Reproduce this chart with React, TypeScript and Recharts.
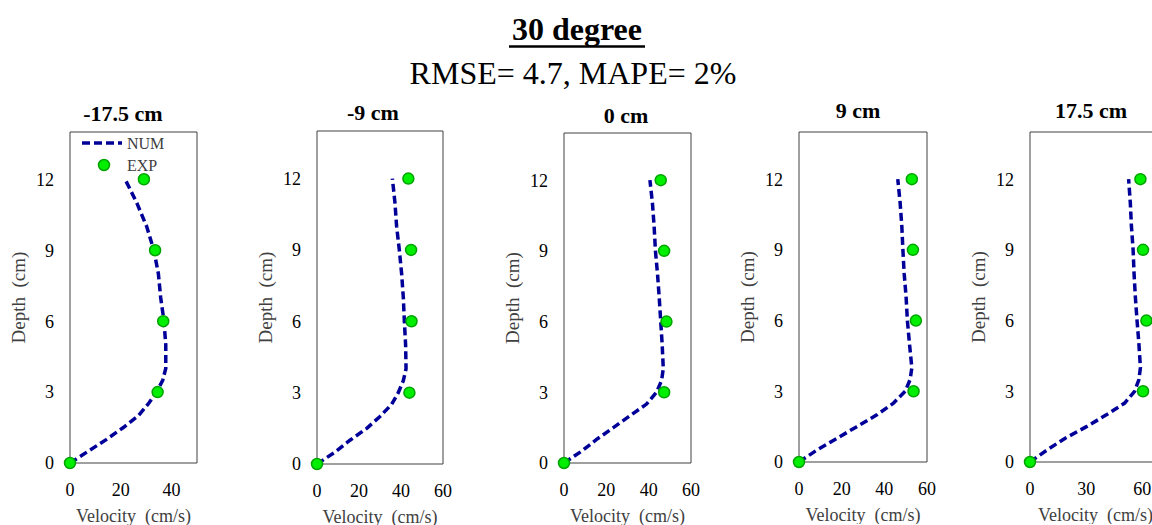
import React from "react";
import {
    ScatterChart,
    Scatter,
    XAxis,
    YAxis,
    ReferenceArea,
    Legend,
} from "recharts";

const FONT = '"Liberation Serif", "Times New Roman", serif';

// depth (cm) of the numerical profile samples and of the measured points
const numDepth = [0, 0.5, 1, 1.5, 2, 2.5, 3, 3.5, 4, 5, 6, 7, 8, 9, 10, 11, 12];
const expDepth = [0, 3, 6, 9, 12];

// velocity (cm/s), one list per section
const numVel1 = [0, 7.2, 14.4, 21, 26.9, 30.8, 34.1, 36.5, 37.7, 37.7, 37, 35.7, 34.8, 33, 30.2, 26.3, 21.7];
const numVel2 = [0, 8.6, 15.7, 23.7, 30, 35.5, 38.7, 41.1, 42.4, 42.2, 41.6, 41.1, 40.3, 39.2, 37.9, 37.1, 35.9];
const numVel3 = [0, 8.3, 15.4, 23.3, 31.1, 39, 43.7, 46.1, 46.9, 46.4, 45.7, 45, 44.2, 43.2, 42.6, 41.8, 40.6];
const numVel4 = [0, 8.3, 17.7, 27.1, 36.5, 44.3, 49.8, 52.1, 52.9, 51.8, 50.8, 50.2, 49.3, 48.7, 48.2, 47.4, 46.3];
const numVel5 = [0, 8.9, 18.6, 30.2, 40.8, 50.6, 55.9, 58.2, 59, 58.2, 57.2, 56.3, 55.6, 55.1, 54.2, 53.6, 52.7];

const expVel1 = [0, 34.5, 36.7, 33.5, 29.1];
const expVel2 = [0, 44, 45, 44.8, 43.5];
const expVel3 = [0, 47.3, 48.4, 47.3, 45.7];
const expVel4 = [0, 53.7, 54.8, 53.4, 52.9];
const expVel5 = [0, 60.4, 62.2, 60.4, 59];

const titles = ["-17.5 cm", "-9 cm", "0 cm", "9 cm", "17.5 cm"];
const xMaxes = [50, 60, 60, 60, 70];
const xTickSets = [[0, 20, 40], [0, 20, 40, 60], [0, 20, 40, 60], [0, 20, 40, 60], [0, 30, 60]];
const depthTicks = [0, 3, 6, 9, 12];

// plot box of each panel on the page: left, right, top, bottom
const boxes = [
    [70, 197, 132, 463],
    [317, 443, 131, 464],
    [564, 691, 133, 463],
    [799, 927, 132, 462],
    [1030, 1161, 132, 462],
];
const titlePos = [[123, 120.5], [373, 120], [626, 122.5], [858, 118.3], [1091, 117.5]];

const numVels = [numVel1, numVel2, numVel3, numVel4, numVel5];
const expVels = [expVel1, expVel2, expVel3, expVel4, expVel5];

const YW = 72;
const RM = 16;

const Dot = (props: any) => (
    <circle cx={props.cx} cy={props.cy} r={5.5} fill="#00ee00" stroke="#00a300" strokeWidth={1.5} />
);

const legendContent = () => (
    <svg width={90} height={46} style={{ overflow: "visible" }}>
        <line x1={0} y1={11} x2={40} y2={11} stroke="#000099" strokeWidth={3.5} strokeDasharray="8 4" />
        <text x={45} y={11} dominantBaseline="central" fontSize={16} fill="#404040" fontFamily={FONT}>NUM</text>
        <circle cx={22} cy={33} r={5.5} fill="#00ee00" stroke="#00a300" strokeWidth={1.5} />
        <text x={45} y={33} dominantBaseline="central" fontSize={16} fill="#404040" fontFamily={FONT}>EXP</text>
    </svg>
);

function Panel({ i }: { i: number }) {
    const [L, R, T, B] = boxes[i];
    const numPts = numDepth.map((d, k) => ({ d, v: numVels[i][k] }));
    const expPts = expDepth.map((d, k) => ({ d, v: expVels[i][k] }));
    return (
        <div style={{ position: "absolute", left: L - YW, top: T - 8 }}>
            <ScatterChart
                width={YW + (R - L) + RM}
                height={8 + (B - T) + 62}
                margin={{ top: 8, right: RM, bottom: 0, left: 0 }}
            >
                <XAxis
                    type="number"
                    dataKey="v"
                    domain={[0, xMaxes[i]]}
                    ticks={xTickSets[i]}
                    interval={0}
                    height={62}
                    axisLine={false}
                    tickLine={false}
                    tickSize={0}
                    tickMargin={20}
                    tick={{ fill: "#000", fontSize: 18, fontFamily: FONT }}
                    label={{
                        value: "Velocity\u00A0 (cm/s)",
                        position: "insideBottom",
                        offset: 3,
                        style: { fontSize: 18, fill: "#404040", fontFamily: FONT },
                    }}
                />
                <YAxis
                    type="number"
                    dataKey="d"
                    domain={[0, 14]}
                    ticks={depthTicks}
                    interval={0}
                    width={YW}
                    axisLine={false}
                    tickLine={false}
                    tickSize={0}
                    tickMargin={16}
                    tick={{ fill: "#000", fontSize: 18, fontFamily: FONT }}
                    label={{
                        value: "Depth\u00A0 (cm)",
                        angle: -90,
                        position: "insideLeft",
                        offset: YW - 52,
                        style: { textAnchor: "middle", fontSize: 19, fill: "#404040", fontFamily: FONT },
                    }}
                />
                <ReferenceArea x1={0} x2={xMaxes[i]} y1={0} y2={14} fill="none" stroke="#404040" strokeWidth={1} ifOverflow="visible" />
                <Scatter
                    name="NUM"
                    data={numPts}
                    line={{ stroke: "#000099", strokeWidth: 3.5, strokeDasharray: "8 4" }}
                    lineType="joint"
                    shape={() => <g />}
                    isAnimationActive={false}
                />
                <Scatter name="EXP" data={expPts} shape={Dot} isAnimationActive={false} />
                {i === 0 && (
                    <Legend
                        layout="horizontal"
                        verticalAlign="middle"
                        align="center"
                        content={legendContent}
                        wrapperStyle={{ left: YW + 12, top: 8, width: 90, height: 46 }}
                    />
                )}
            </ScatterChart>
        </div>
    );
}

export default function App() {
    return (
        <div style={{ position: "absolute", left: 0, top: 0, width: 1152, height: 525, overflow: "hidden", background: "#fff" }}>
            {titles.map((_, i) => (
                <Panel key={i} i={i} />
            ))}
            <svg width={1152} height={525} style={{ position: "absolute", left: 0, top: 0, pointerEvents: "none" }}>
                <text x={577} y={39.5} textAnchor="middle" fontSize={32} fontWeight="bold" fontFamily={FONT} fill="#000">
                    30 degree
                </text>
                <line x1={509} x2={645} y1={46.5} y2={46.5} stroke="#000" strokeWidth={2.5} />
                <text x={573} y={84} textAnchor="middle" fontSize={32} fontFamily={FONT} fill="#000">
                    RMSE= 4.7, MAPE= 2%
                </text>
                {titles.map((t, i) => (
                    <text key={t} x={titlePos[i][0]} y={titlePos[i][1]} textAnchor="middle" fontSize={22} fontWeight="bold" fontFamily={FONT} fill="#000">
                        {t}
                    </text>
                ))}
            </svg>
        </div>
    );
}
